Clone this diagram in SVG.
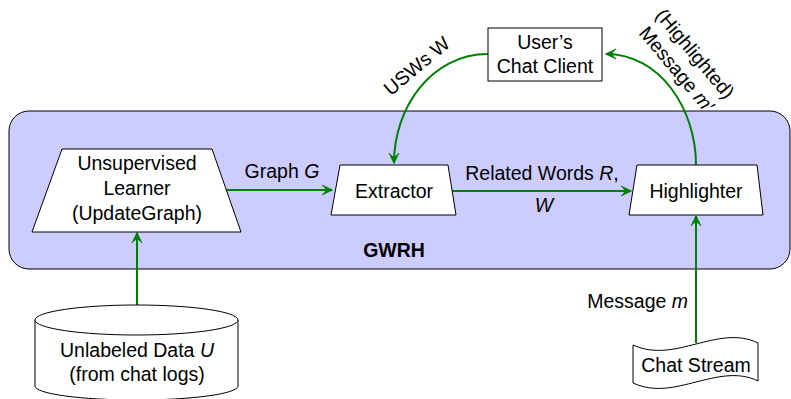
<svg xmlns="http://www.w3.org/2000/svg" width="791" height="399" viewBox="0 0 791 399">
  <style>
    text { font-family: "Liberation Sans", Arial, Helvetica, sans-serif; font-size: 19.5px; fill: #000; }
    .mid { text-anchor: middle; }
    .it { font-style: italic; }
    .node { fill: #fff; stroke: #000; stroke-width: 1; }
    .edge { fill: none; stroke: #008000; stroke-width: 2; marker-end: url(#arrow); }
  </style>
  <defs>
    <!-- filled arrowhead with a concave back -->
    <marker id="arrow" markerUnits="userSpaceOnUse" markerWidth="14" markerHeight="14" viewBox="-12 -7 14 14" refX="0" refY="0" orient="auto">
      <path d="M0.5,0 L-10,-5 Q-5.5,-1 -6.5,0 Q-5.5,1 -10,5 Z" fill="#008000" stroke="#008000" stroke-width="0.8" stroke-linejoin="round"/>
    </marker>
  </defs>

  <!-- GWRH system boundary -->
  <g id="gwrh">
    <rect x="9" y="111" width="781" height="158" rx="20" ry="20" fill="#ccccff" stroke="#000" stroke-width="1"/>
    <text class="mid" x="394" y="257" font-weight="bold">GWRH</text>
  </g>

  <!-- connectors -->
  <g id="connectors">
    <path class="edge" d="M226,190 L332,190"/>
    <path class="edge" d="M452,191 L631,191"/>
    <path class="edge" d="M137,305 L137,233"/>
    <path class="edge" d="M696,343 L696,216"/>
    <path class="edge" d="M488,54 C431,54 394,108 394,163"/>
    <path class="edge" d="M696,165 C696,109 660,54 606,54"/>
    <text class="mid" x="282" y="178">Graph <tspan class="it">G</tspan></text>
    <text class="mid" x="542" y="180">Related Words <tspan class="it">R</tspan>,</text>
    <text class="mid it" x="544" y="212">W</text>
    <text x="688" y="308" text-anchor="end">Message <tspan class="it">m</tspan></text>
    <text class="mid" transform="translate(421,71) rotate(-40)">USWs W</text>
    <g transform="translate(690,58) rotate(50)">
      <text class="mid" x="0" y="0">(Highlighted)</text>
      <text class="mid" x="0" y="24">Message <tspan class="it">m′</tspan></text>
    </g>
  </g>

  <!-- Unsupervised learner -->
  <g id="learner">
    <polygon class="node" points="62,149 212,149 241,232 32,232"/>
    <text class="mid" x="137" y="170">Unsupervised</text>
    <text class="mid" x="137" y="195">Learner</text>
    <text class="mid" x="137" y="220">(UpdateGraph)</text>
  </g>

  <!-- Extractor -->
  <g id="extractor">
    <polygon class="node" points="340,165 448,165 456,215 331,215"/>
    <text class="mid" x="394" y="198">Extractor</text>
  </g>

  <!-- Highlighter -->
  <g id="highlighter">
    <polygon class="node" points="637,165 757,165 763,215 629,215"/>
    <text class="mid" x="696" y="198">Highlighter</text>
  </g>

  <!-- User's chat client -->
  <g id="client">
    <rect class="node" x="488" y="28" width="114" height="53"/>
    <text class="mid" x="545" y="49">User’s</text>
    <text class="mid" x="545" y="73">Chat Client</text>
  </g>

  <!-- Unlabeled data store -->
  <g id="data">
    <path class="node" d="M35,320 L35,386 A101.5,14 0 0 0 238,386 L238,320"/>
    <ellipse class="node" cx="136.5" cy="320" rx="101.5" ry="15"/>
    <text class="mid" x="137" y="357">Unlabeled Data <tspan class="it">U</tspan></text>
    <text class="mid" x="137" y="381">(from chat logs)</text>
  </g>

  <!-- Chat stream -->
  <g id="stream">
    <path class="node" d="M633,345 C655,355 676,349 696,344 C716,339 738,333 758,343 L758,381 C738,371 716,377 696,382 C676,387 655,393 633,383 Z"/>
    <text class="mid" x="696" y="372">Chat Stream</text>
  </g>
</svg>
